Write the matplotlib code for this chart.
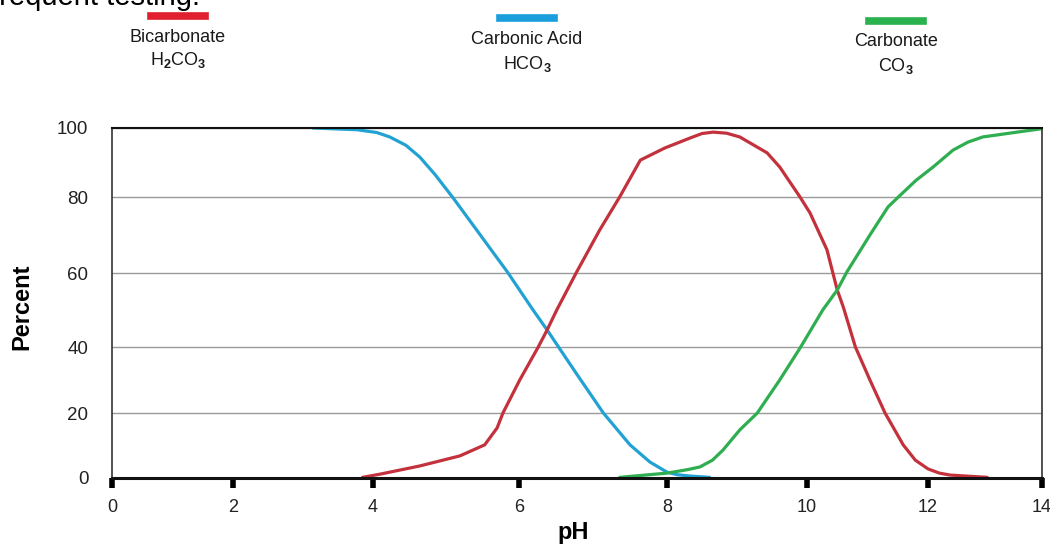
import numpy as np
import matplotlib
matplotlib.use('Agg')
import matplotlib.pyplot as plt
from matplotlib.lines import Line2D

plt.rcParams['font.family'] = ['Liberation Sans', 'DejaVu Sans']
plt.rcParams['mathtext.fontset'] = 'custom'
plt.rcParams['mathtext.rm'] = 'Liberation Sans'
plt.rcParams['mathtext.bf'] = 'Liberation Sans:bold'

# species fractions (percent) vs pH
carbonic_ph = [3.14, 3.77, 4.05, 4.23, 4.45, 4.64, 4.85, 5.10, 5.84, 6.19, 6.38, 6.78, 7.14,
               7.50, 7.77, 8.00, 8.15, 8.33, 8.61]
carbonic_pct = [100, 99.5, 98.7, 97.4, 95.0, 91.6, 86.5, 79.7, 60.3, 50.0, 44.6, 31.8, 20.0,
                10.2, 4.9, 1.8, 1.0, 0.6, 0.2]

bicarb_ph = [3.85, 4.10, 4.64, 5.19, 5.53, 5.70, 5.78, 6.01, 6.26, 6.38, 6.51, 6.78, 7.09, 7.36,
             7.64, 7.97, 8.33, 8.50, 8.66, 8.85, 9.04, 9.43, 9.61, 9.90, 10.05, 10.33, 10.50,
             10.60, 10.80, 11.04, 11.29, 11.59, 11.79, 12.00, 12.20, 12.39, 13.04]
bicarb_pct = [0.2, 1.2, 3.7, 6.8, 10.2, 15.4, 20.0, 30.0, 40.0, 44.6, 50.0, 60.3, 71.3, 80.0,
              90.7, 94.2, 97.1, 98.4, 98.8, 98.5, 97.4, 92.8, 88.7, 80.0, 75.8, 66.1, 55.4,
              50.8, 40.0, 30.0, 20.0, 10.2, 5.5, 2.8, 1.5, 0.9, 0.2]

carbonate_ph = [7.36, 8.00, 8.30, 8.47, 8.65, 8.80, 9.04, 9.29, 9.61, 9.91, 10.26, 10.50, 10.66,
                11.04, 11.34, 11.54, 11.80, 12.09, 12.44, 12.70, 12.96, 13.56, 14.0]
carbonate_pct = [0.2, 1.5, 2.6, 3.4, 5.5, 8.6, 14.8, 20.0, 30.0, 40.0, 50.0, 55.4, 60.3,
                 70.0, 77.4, 80.5, 84.8, 88.7, 93.6, 95.9, 97.4, 98.8, 99.8]

x_ticks = [0, 2, 4, 6, 8, 10, 12, 14]
y_ticks = [0, 20, 40, 60, 80, 100]

# the original axes are not evenly spaced: pixel spots of each tick
x_tick_px = [112, 233, 373, 519, 667, 807, 928, 1042]
y_tick_px = [73, 138, 204, 278, 354, 423]


def piecewise_scale(ticks, px):
    t = [ticks[0] - 1000] + list(ticks) + [ticks[-1] + 1000]
    s0 = (px[1] - px[0]) / (ticks[1] - ticks[0])
    s1 = (px[-1] - px[-2]) / (ticks[-1] - ticks[-2])
    p = [px[0] - 1000 * s0] + list(px) + [px[-1] + 1000 * s1]

    def forward(v):
        return np.interp(v, t, p)

    def inverse(v):
        return np.interp(v, p, t)
    return forward, inverse


red_line = '#c3323c'
blue_line = '#22a2d2'
green_line = '#2eae50'

fig = plt.figure(figsize=(10.5, 5.51), dpi=100)
ax = fig.add_axes([112 / 1050, 1 - 478 / 551, 930 / 1050, 350 / 551])
ax.set_xscale('function', functions=piecewise_scale(x_ticks, x_tick_px))
ax.set_yscale('function', functions=piecewise_scale(y_ticks, y_tick_px))

ax.plot(carbonic_ph, carbonic_pct, color=blue_line, lw=2.3, solid_capstyle='round', solid_joinstyle='round')
ax.plot(bicarb_ph, bicarb_pct, color=red_line, lw=2.3, solid_capstyle='round', solid_joinstyle='round')
ax.plot(carbonate_ph, carbonate_pct, color=green_line, lw=2.3, solid_capstyle='round', solid_joinstyle='round')

ax.set_xlim(0, 14)
ax.set_ylim(0, 100)
ax.set_xticks(x_ticks)
ax.set_yticks(y_ticks)
ax.yaxis.grid(True, color='#9a9a9a', lw=1)
ax.set_axisbelow(True)

ax.tick_params(axis='x', direction='out', length=7, width=4, color='black',
               labelsize=13, pad=8, labelcolor='#222222')
ax.tick_params(axis='y', length=0, labelsize=13.5, pad=17, labelcolor='#222222')

for side in ['left', 'right']:
    ax.spines[side].set_color('#333333')
    ax.spines[side].set_linewidth(1.2)
ax.spines['top'].set_color('#111111')
ax.spines['top'].set_linewidth(1.5)
ax.spines['bottom'].set_color('#111111')
ax.spines['bottom'].set_linewidth(2.2)

ax.set_xlabel('pH', fontsize=17, fontweight='bold')
ax.set_ylabel('Percent', fontsize=17, fontweight='bold')
ax.xaxis.set_label_coords((573 - 112) / 930, -(521 - 478) / 350)
ax.yaxis.set_label_coords(-(112 - 33) / 930, 0.49)

# legend drawn above the chart: colour bar, name, formula
W, H = 1050, 551
legend_items = [
    ('Bicarbonate', r'H$_\mathbf{2}$CO$_\mathbf{3}$', '#e0202e', 178, 16, 37, 60),
    ('Carbonic Acid', r'HCO$_\mathbf{3}$', '#1a9fdc', 527, 18, 40, 64),
    ('Carbonate', r'CO$_\mathbf{3}$', '#2ab24f', 896, 21, 42, 66),
]
for name, formula, col, cx, sy, ny, fy in legend_items:
    fig.add_artist(Line2D([(cx - 27) / W, (cx + 27) / W], [1 - sy / H, 1 - sy / H],
                          color=col, lw=5.5, transform=fig.transFigure))
    fig.text(cx / W, 1 - ny / H, name, ha='center', va='center', fontsize=13, color='#1a1a1a')
    fig.text(cx / W, 1 - fy / H, formula, ha='center', va='center', fontsize=13, color='#1a1a1a')

# heading from the page above, cut off at the top edge
fig.text(-9 / W, 1 - 5 / H, 'frequent testing.', ha='left', va='baseline', fontsize=21, color='black')

fig.savefig('out.png', dpi=100)
